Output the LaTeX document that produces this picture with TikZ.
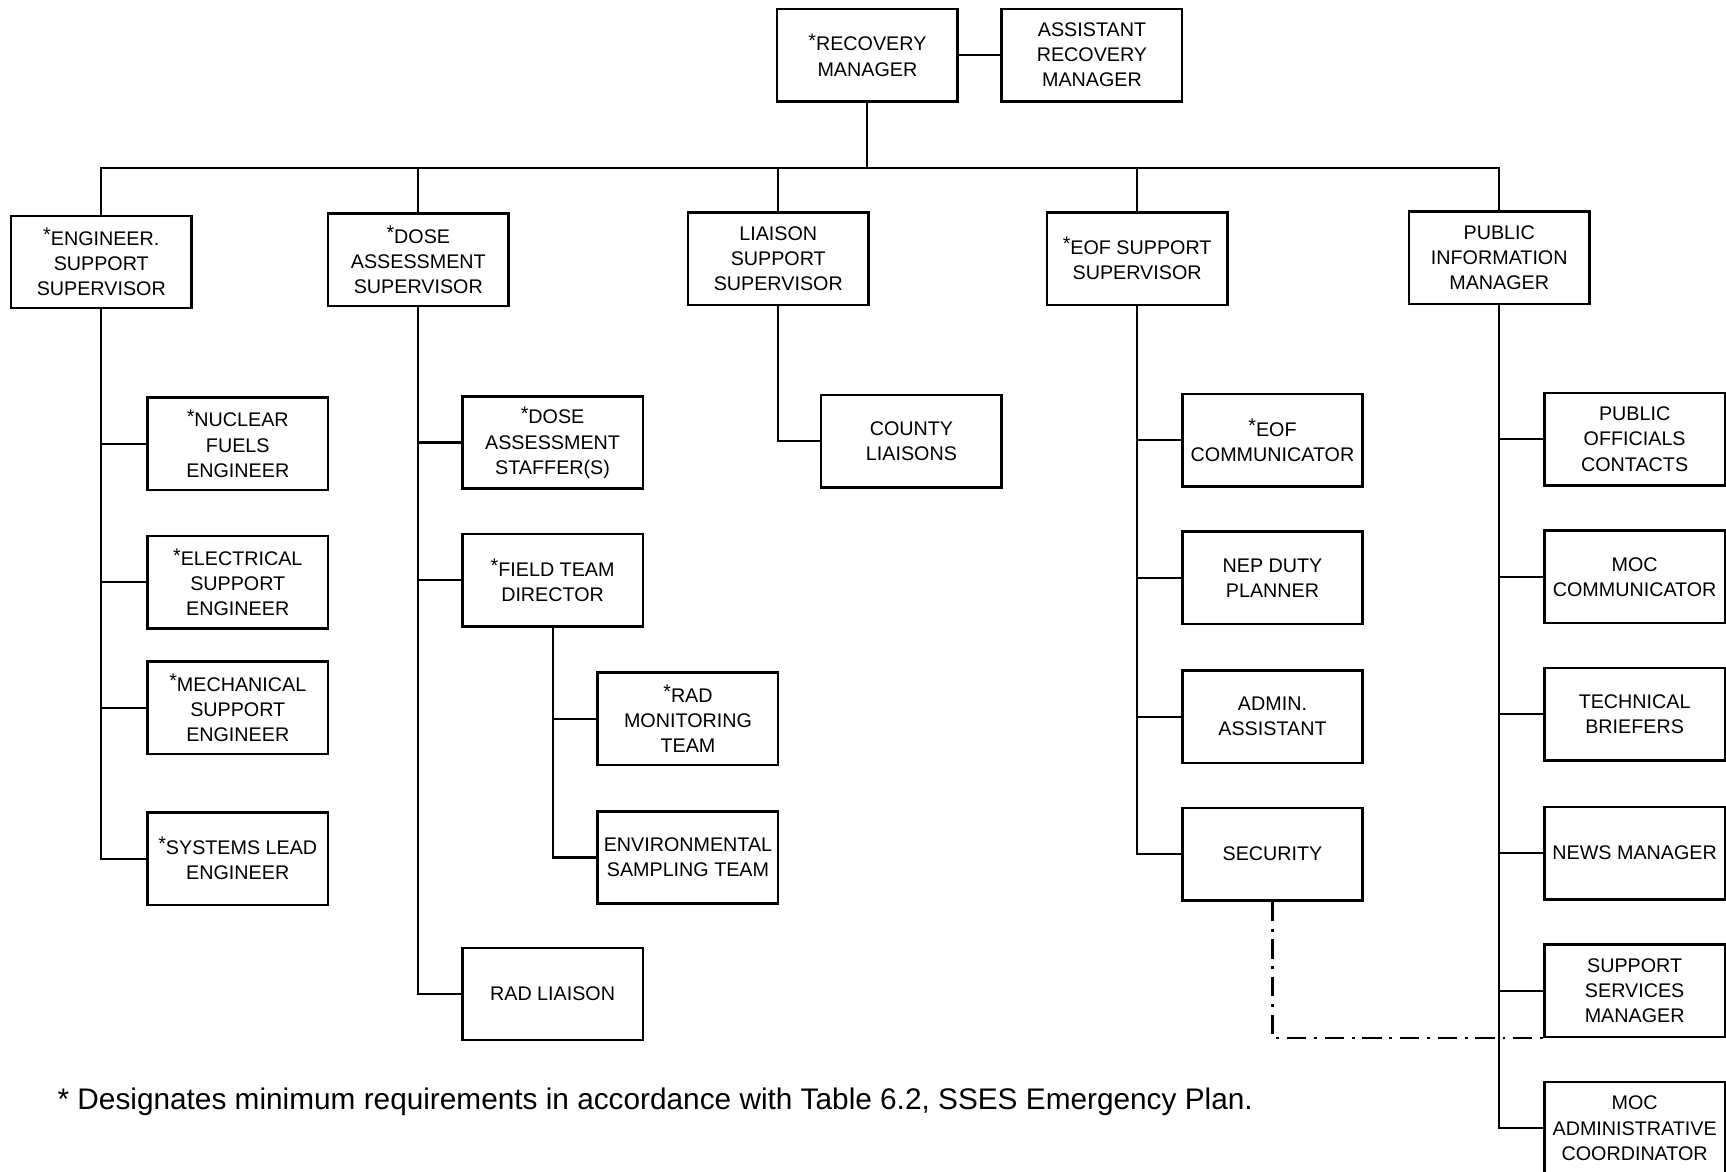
\documentclass[tikz,border=0pt]{standalone}
\usepackage{fontspec}
\setmainfont{Liberation Sans}
\newcommand{\req}{\raisebox{0.35ex}{*}}
\tikzset{
  box/.style={draw, line width=1.3pt, minimum width=3.28cm, minimum height=1.68cm,
    align=center, inner sep=1pt, font=\fontsize{10.2}{13}\selectfont},
  link/.style={line width=1.1pt},
  dashdot/.style={line width=1.1pt, dash pattern=on 10pt off 4pt on 1.5pt off 4pt},
}
\begin{document}
\begin{tikzpicture}[x=0.02cm, y=-0.02cm]
    \useasboundingbox (0,0) rectangle (1568,1064);
    % top
    \node[box] (rm) at (788,50) {\req RECOVERY\\MANAGER};
    \node[box] (arm) at (992,50) {ASSISTANT\\RECOVERY\\MANAGER};
    \coordinate (bus) at (788,153);
    % supervisors
    \node[box] (ess) at (92,238) {\req ENGINEER.\\SUPPORT\\SUPERVISOR};
    \node[box] (dass) at (380,236) {\req DOSE\\ASSESSMENT\\SUPERVISOR};
    \node[box] (lss) at (707,235) {LIAISON\\SUPPORT\\SUPERVISOR};
    \node[box] (eofs) at (1033,235) {\req EOF SUPPORT\\SUPERVISOR};
    \node[box] (pim) at (1362,234) {PUBLIC\\INFORMATION\\MANAGER};
    % engineering
    \node[box] (nfe) at (216,403) {\req NUCLEAR\\FUELS\\ENGINEER};
    \node[box] (ese) at (216,529) {\req ELECTRICAL\\SUPPORT\\ENGINEER};
    \node[box] (mse) at (216,643) {\req MECHANICAL\\SUPPORT\\ENGINEER};
    \node[box] (sle) at (216,780) {\req SYSTEMS LEAD\\ENGINEER};
    % dose assessment
    \node[box] (dast) at (502,402) {\req DOSE\\ASSESSMENT\\STAFFER(S)};
    \node[box] (ftd) at (502,527) {\req FIELD TEAM\\DIRECTOR};
    \node[box] (radl) at (502,903) {RAD LIAISON};
    \node[box] (rmt) at (625,653) {\req RAD\\MONITORING\\TEAM};
    \node[box] (est) at (625,779) {ENVIRONMENTAL\\SAMPLING TEAM};
    % liaison
    \node[box] (cl) at (828,401) {COUNTY\\LIAISONS};
    % eof support
    \node[box] (eofc) at (1156,400) {\req EOF\\COMMUNICATOR};
    \node[box] (nep) at (1156,525) {NEP DUTY\\PLANNER};
    \node[box] (adm) at (1156,651) {ADMIN.\\ASSISTANT};
    \node[box] (sec) at (1156,776) {SECURITY};
    % public information
    \node[box] (poc) at (1485,399) {PUBLIC\\OFFICIALS\\CONTACTS};
    \node[box] (mocc) at (1485,524) {MOC\\COMMUNICATOR};
    \node[box] (tb) at (1485,649) {TECHNICAL\\BRIEFERS};
    \node[box] (nm) at (1485,775) {NEWS MANAGER};
    \node[box] (ssm) at (1485,900) {SUPPORT\\SERVICES\\MANAGER};
    \node[box] (moca) at (1485,1025) {MOC\\ADMINISTRATIVE\\COORDINATOR};
    % connectors
    \draw[link] (rm) -- (arm);
    \draw[link] (rm.south) -- (bus);
    \draw[link] (ess.north) -- (ess.north |- bus) -- (pim.north |- bus) -- (pim.north);
    \foreach \n in {dass,lss,eofs}
        \draw[link] (\n.north) -- (\n.north |- bus);
    \draw[link] (ess.south) |- (sle.west);
    \foreach \n in {nfe,ese,mse}
        \draw[link] (\n.west) -- (\n.west -| ess.south);
    \draw[link] (dass.south) |- (radl.west);
    \foreach \n in {dast,ftd}
        \draw[link] (\n.west) -- (\n.west -| dass.south);
    \draw[link] (ftd.south) |- (est.west);
    \draw[link] (rmt.west) -- (rmt.west -| ftd.south);
    \draw[link] (lss.south) |- (cl.west);
    \draw[link] (eofs.south) |- (sec.west);
    \foreach \n in {eofc,nep,adm}
        \draw[link] (\n.west) -- (\n.west -| eofs.south);
    \draw[link] (pim.south) |- (moca.west);
    \foreach \n in {poc,mocc,tb,nm,ssm}
        \draw[link] (\n.west) -- (\n.west -| pim.south);
    \draw[dashdot] (sec.south) |- (ssm.south west);
    % note
    \node[anchor=west, inner sep=0pt, font=\fontsize{15.4}{18}\selectfont] (note) at (52,1001)
        {* Designates minimum requirements in accordance with Table 6.2, SSES Emergency Plan.};
\end{tikzpicture}
\end{document}
